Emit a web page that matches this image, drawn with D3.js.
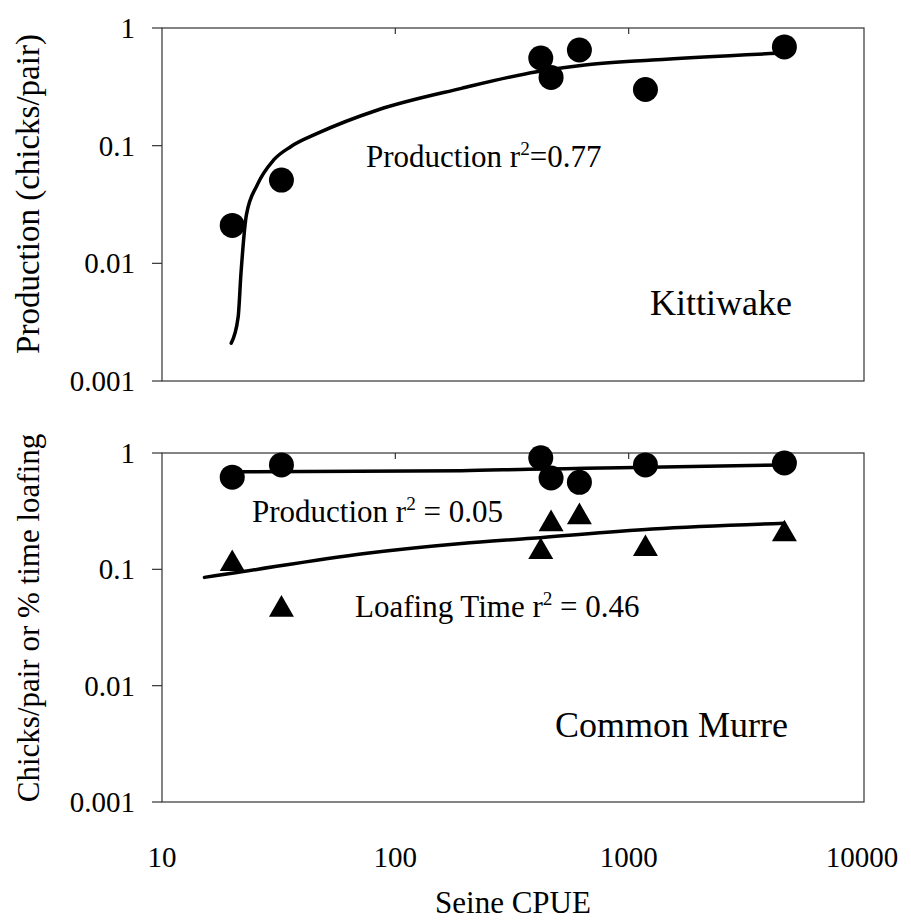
<!DOCTYPE html>
<html>
<head>
<meta charset="utf-8">
<script src="https://cdn.jsdelivr.net/npm/d3@7"></script>
</head>
<body style="margin:0;background:#fff">
<svg id="chart"></svg>
<script>
const width = 911;
const height = 921;
const serif = "'Liberation Serif'";

// Seine CPUE of the seven sampled years (shared by both panels)
const cpue = [20, 32.5, 420, 465, 615, 1180, 4650];

// Kittiwake production (chicks/pair)
const kittiwakeProd = [0.021, 0.051, 0.556, 0.38, 0.65, 0.30, 0.69];
// Kittiwake fitted curve
const kittiwakeFitX = [19.8, 21.2, 21.8, 23.0, 25.6, 30.1, 35.6, 46.3, 84, 192, 404, 649, 1262, 4355];
const kittiwakeFitY = [0.0021, 0.0035, 0.0082, 0.0258, 0.0464, 0.0756, 0.098, 0.127, 0.201, 0.307, 0.425, 0.485, 0.535, 0.61];

// Common murre production and loafing time
const murreProd = [0.62, 0.79, 0.91, 0.61, 0.56, 0.79, 0.82];
const murreLoaf = [0.116, 0.047, 0.147, 0.255, 0.293, 0.156, 0.209];
const murreProdFitX = [20, 192, 372, 650, 4650];
const murreProdFitY = [0.69, 0.705, 0.724, 0.738, 0.789];
const murreLoafFitX = [15.2, 19.6, 74, 192, 384, 1262, 4650];
const murreLoafFitY = [0.0853, 0.092, 0.137, 0.167, 0.185, 0.222, 0.249];

const xTicks = [10, 100, 1000, 10000];
const yTicks = [1, 0.1, 0.01, 0.001];

const svg = d3.select("#chart")
    .attr("width", width)
    .attr("height", height);

const x = d3.scaleLog().domain([10, 10000]).range([162, 862]);
const plotRight = 864;

const panels = [
    {
        y: d3.scaleLog().domain([0.001, 1]).range([381, 28]),
        title: "Production (chicks/pair)",
        titleY: 194,
        titleSize: 33,
        points: [{ vals: kittiwakeProd, shape: "circle" }],
        fits: [{ xs: kittiwakeFitX, ys: kittiwakeFitY }],
        notes: [
            { x: 366, y: 167, parts: ["Production r", "2", "=0.77"], size: 31 },
            { x: 650, y: 315, parts: ["Kittiwake"], size: 36 }
        ]
    },
    {
        y: d3.scaleLog().domain([0.001, 1]).range([802, 453]),
        title: "Chicks/pair or % time loafing",
        titleY: 618,
        titleSize: 31,
        points: [
            { vals: murreProd, shape: "circle" },
            { vals: murreLoaf, shape: "triangle" }
        ],
        fits: [
            { xs: murreProdFitX, ys: murreProdFitY },
            { xs: murreLoafFitX, ys: murreLoafFitY }
        ],
        notes: [
            { x: 252, y: 522, parts: ["Production r", "2", " = 0.05"], size: 31 },
            { x: 355, y: 617, parts: ["Loafing Time r", "2", " = 0.46"], size: 31 },
            { x: 555, y: 737, parts: ["Common Murre"], size: 36 }
        ]
    }
];

const line = d3.line()
    .x(d => x(d[0]))
    .curve(d3.curveMonotoneX);

panels.forEach(p => {
    const y = p.y;
    const [yBottom, yTop] = y.range();
    const g = svg.append("g");

    // frame
    g.append("rect")
        .attr("x", x.range()[0])
        .attr("y", yTop)
        .attr("width", plotRight - x.range()[0])
        .attr("height", yBottom - yTop)
        .attr("fill", "none")
        .attr("stroke", "#333")
        .attr("stroke-width", 1.2);

    // y ticks and labels
    const yAxis = g.selectAll(".ytick")
        .data(yTicks)
        .join("g")
        .attr("class", "ytick");
    yAxis.append("line")
        .attr("x1", 152).attr("x2", 162)
        .attr("y1", d => y(d)).attr("y2", d => y(d))
        .attr("stroke", "#333").attr("stroke-width", 1.2);
    yAxis.append("text")
        .attr("x", 135)
        .attr("y", d => y(d))
        .attr("dy", "0.34em")
        .attr("text-anchor", "end")
        .style("font-family", serif)
        .style("font-size", "29px")
        .text(d => d);

    // small x ticks along the top edge
    g.selectAll(".xtick")
        .data(xTicks.slice(1, 3))
        .join("line")
        .attr("x1", d => x(d)).attr("x2", d => x(d))
        .attr("y1", yTop).attr("y2", yTop + 6)
        .attr("stroke", "#333").attr("stroke-width", 1.2);

    // axis title
    g.append("text")
        .attr("transform", `translate(39,${p.titleY}) rotate(-90)`)
        .attr("text-anchor", "middle")
        .style("font-family", serif)
        .style("font-size", p.titleSize + "px")
        .text(p.title);

    // fitted curves
    p.fits.forEach(f => {
        const pts = f.xs.map((v, i) => [v, f.ys[i]]);
        g.append("path")
            .datum(pts)
            .attr("d", line.y(d => y(d[1])))
            .attr("fill", "none")
            .attr("stroke", "#000")
            .attr("stroke-width", 3.5)
            .attr("stroke-linejoin", "round")
            .attr("stroke-linecap", "round");
    });

    // markers
    p.points.forEach(s => {
        const data = cpue.map((c, i) => [c, s.vals[i]]);
        if (s.shape === "circle") {
            g.selectAll(null)
                .data(data)
                .join("circle")
                .attr("cx", d => x(d[0]))
                .attr("cy", d => y(d[1]))
                .attr("r", 12.5)
                .attr("fill", "#000");
        } else {
            g.selectAll(null)
                .data(data)
                .join("path")
                .attr("d", d3.symbol(d3.symbolTriangle, 270))
                .attr("transform", d => `translate(${x(d[0])},${y(d[1]) + 2})`)
                .attr("fill", "#000");
        }
    });

    // annotations
    p.notes.forEach(n => {
        const t = g.append("text")
            .attr("x", n.x)
            .attr("y", n.y)
            .style("font-family", serif)
            .style("font-size", n.size + "px");
        n.parts.forEach((part, i) => {
            const ts = t.append("tspan").text(part);
            if (n.parts.length === 3 && i === 1) {
                ts.style("font-size", (n.size * 0.62) + "px").attr("dy", -n.size * 0.4);
            } else if (n.parts.length === 3 && i === 2) {
                ts.attr("dy", n.size * 0.4);
            }
        });
    });
});

// x tick labels under the lower panel
svg.selectAll(".xlabel")
    .data(xTicks)
    .join("text")
    .attr("class", "xlabel")
    .attr("x", d => x(d))
    .attr("y", 867)
    .attr("text-anchor", "middle")
    .style("font-family", serif)
    .style("font-size", "29px")
    .text(d => d);

svg.append("text")
    .attr("x", 513)
    .attr("y", 913)
    .attr("text-anchor", "middle")
    .style("font-family", serif)
    .style("font-size", "31px")
    .text("Seine CPUE");
</script>
</body>
</html>
